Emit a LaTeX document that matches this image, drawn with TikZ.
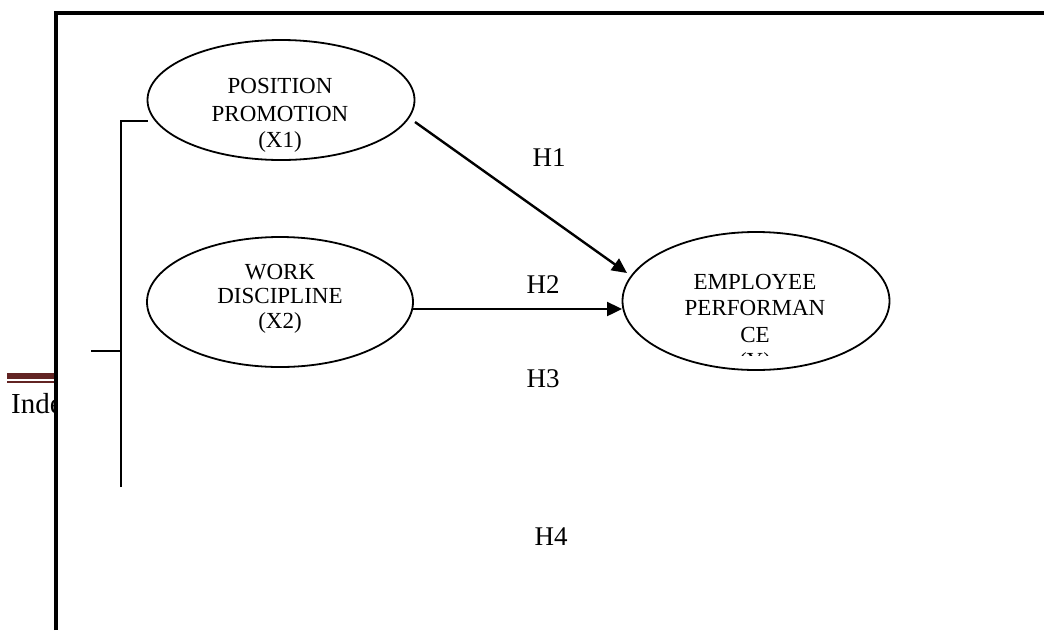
\documentclass[tikz,border=0pt]{standalone}
\usepackage{fontspec}
\setmainfont{Liberation Serif}
\usetikzlibrary{arrows.meta,shapes.geometric}
\definecolor{hdrbrown}{HTML}{622423}
\tikzset{
  ell/.style={draw, ellipse, line width=1.8pt, inner sep=0pt},
  etxt/.style={anchor=base, inner sep=0pt, font=\fontsize{23}{27}\selectfont},
  hlab/.style={anchor=base, inner sep=0pt, font=\fontsize{27}{30}\selectfont},
  arr/.style={line width=2.4pt, -{Triangle[length=15pt,width=14pt]}},
  brk/.style={line width=2.2pt},
}
\begin{document}
\begin{tikzpicture}[x=1pt,y=-1pt]
\useasboundingbox (0,0) rectangle (1044,630);
% header rule and partial text outside the frame
\fill[hdrbrown] (7,373) rectangle (56,379);
\fill[hdrbrown] (7,381) rectangle (56,383);
\node[anchor=base west, inner sep=0pt, font=\fontsize{29}{32}\selectfont] (ind) at (11,413) {Inde};
\fill[white] (56,13) rectangle (1044,630);
% frame
\draw[line width=3.8pt] (56,630) -- (56,13) -- (1044,13);
% ellipses
\node[ell, minimum width=267pt, minimum height=120pt] (pp) at (281,100) {};
\node[ell, minimum width=266pt, minimum height=130pt] (wd) at (280,302) {};
\node[ell, minimum width=267pt, minimum height=138pt] (ep) at (756,301) {};
% ellipse texts
\node[etxt] (pp1) at (280,93) {POSITION};
\node[etxt] (pp2) at (280,121) {PROMOTION};
\node[etxt] (pp3) at (280,147) {(X1)};
\node[etxt] (wd1) at (280,279) {WORK};
\node[etxt] (wd2) at (280,303) {DISCIPLINE};
\node[etxt] (wd3) at (280,328) {(X2)};
\begin{scope}
\clip (600,200) rectangle (900,355);
\node[etxt] (ep1) at (755,289) {EMPLOYEE};
\node[etxt] (ep2) at (755,315) {PERFORMAN};
\node[etxt] (ep3) at (755,342) {CE};
\node[etxt] (ep4) at (755,368) {(Y)};
\end{scope}
% bracket
\coordinate (bt) at (121,121);
\coordinate (bm) at (121,351);
\coordinate (bb) at (121,487);
\coordinate (bl) at (91,351);
\coordinate (bp) at (148,121);
\draw[brk] (bb) -- (bt) -- (bp);
\draw[brk] (bl) -- (bm);
% arrows
\coordinate (a1s) at (415,122);
\coordinate (a1e) at (627,273);
\coordinate (a2s) at (413,309);
\coordinate (a2e) at (622,309);
\draw[arr] (a1s) -- (a1e);
\draw[arr] (a2s) -- (a2e);
% hypothesis labels
\node[hlab] (h1) at (549,166) {H1};
\node[hlab] (h2) at (543,293) {H2};
\node[hlab] (h3) at (543,387) {H3};
\node[hlab] (h4) at (551,545) {H4};
\end{tikzpicture}
\end{document}
